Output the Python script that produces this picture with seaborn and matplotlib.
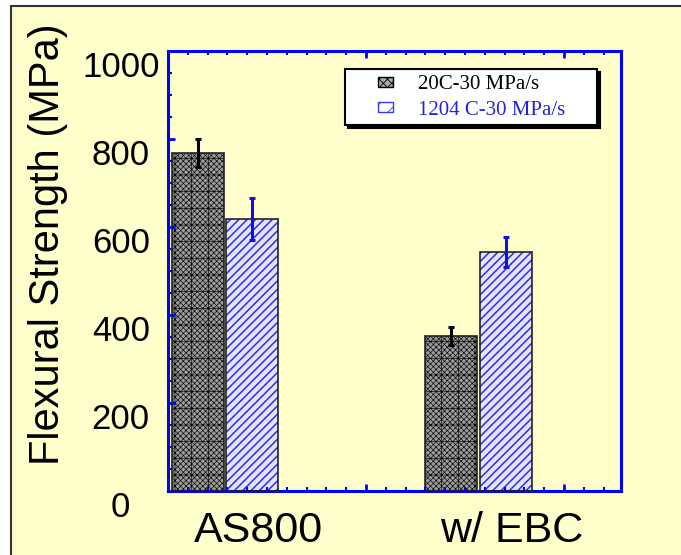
import numpy as np
import pandas as pd
import matplotlib
matplotlib.use("Agg")
import matplotlib.pyplot as plt
import matplotlib.transforms as mtransforms
from matplotlib.patches import Rectangle
from matplotlib.legend_handler import HandlerPatch
import seaborn as sns

# values
materials = ["AS800", "w/ EBC"]
conditions = ["20C-30 MPa/s", "1204 C-30 MPa/s"]
strength_20c = [768, 352]
strength_1204c = [618, 543]
error_20c = [31, 20]
error_1204c = [48, 34]

BG = "#FFFFCC"
BLUE = "#0000FF"
TEXT_BLUE = "#2323D8"

df = pd.DataFrame({
    "material": materials * 2,
    "condition": [conditions[0]] * 2 + [conditions[1]] * 2,
    "strength": strength_20c + strength_1204c,
})
errors = [error_20c, error_1204c]

plt.rcParams["font.family"] = "Liberation Sans"
plt.rcParams["hatch.linewidth"] = 0.6

fig = plt.figure(figsize=(6.81, 5.55), dpi=100, facecolor="white")
# slide background with its frame on the left and top
fig.add_artist(Rectangle((11 / 681, -0.5), 1.5, 1.5 - 6 / 555,
                         transform=fig.transFigure, facecolor=BG,
                         edgecolor="#333333", lw=1.5, zorder=-10))
ax = fig.add_axes([168 / 681, 1 - 491 / 555, 453 / 681, 440 / 555])
ax.set_facecolor(BG)

sns.barplot(data=df, x="material", y="strength", hue="condition",
            order=materials, hue_order=conditions, width=0.43, gap=0.04,
            errorbar=None, linewidth=0, legend=False, ax=ax)

# fill, hatch colour, hatch pattern and hatch width for each condition
styles = [("#9C9C9C", "black", "+xxxxxx", 0.45), ("#E4E4FF", "#2E2EE8", "////", 1.1)]
bar_groups = list(ax.containers[:2])
for cont, (face, hatch_col, hatch, hlw) in zip(bar_groups, styles):
    for bar in cont:
        bar.set_facecolor(face)
        bar.set_edgecolor(hatch_col)
        bar.set_hatch(hatch)
        bar.set_linewidth(0)
        if hasattr(bar, "set_hatch_linewidth"):
            bar.set_hatch_linewidth(hlw)
        # dark outline on top of the hatched bar
        ax.add_patch(Rectangle(bar.get_xy(), bar.get_width(), bar.get_height(),
                               fill=False, edgecolor="#222222", lw=1.2, zorder=3))

# error bars centred on the bars
for cont, err, col in zip(bar_groups, errors, ["black", "#1010E0"]):
    xs = [b.get_x() + b.get_width() / 2 for b in cont]
    ys = [b.get_height() for b in cont]
    ax.errorbar(xs, ys, yerr=err, fmt="none", ecolor=col, elinewidth=2.2,
                capsize=2.5, capthick=2.2, zorder=5)

ax.set_xlim(-0.225, 1.562)
ax.set_ylim(0, 1000)

for s in ax.spines.values():
    s.set_color(BLUE)
    s.set_linewidth(2.2)

# y axis
ax.set_yticks(range(0, 1001, 200))
ax.set_yticks(range(0, 1001, 50), minor=True)
ax.tick_params(axis="y", which="both", direction="in", color=BLUE)
ax.tick_params(axis="y", which="major", length=5, width=2, labelsize=25, pad=34)
ax.tick_params(axis="y", which="minor", length=3, width=1.5)
for lab in ax.get_yticklabels():
    lab.set_ha("center")
    lab.set_va("top")
ax.set_ylabel("Flexural Strength (MPa)", fontsize=30, va="center")
ax.yaxis.set_label_coords(-0.265, 0.561)

# x axis: category names, shifted right as in the original
ax.set_xticks([0, 1], materials)
ax.tick_params(axis="x", which="major", length=0, labelsize=31, pad=14.5)
ax.set_xlabel("")
shift = mtransforms.ScaledTranslation(33 / 100, 0, fig.dpi_scale_trans)
for lab in ax.get_xticklabels():
    lab.set_transform(lab.get_transform() + shift)

# plain tick marks along top and bottom spines
ax2 = ax.twiny()
ax2.set_xlim(0, 453 / 198)
ax2.set_xticks([1, 2])
ax2.set_xticks(np.arange(0.1, 2.3, 0.1), minor=True)
ax2.xaxis.set_ticks_position("both")
ax2.tick_params(axis="x", which="both", direction="in", color=BLUE,
                labeltop=False, labelbottom=False)
ax2.tick_params(axis="x", which="major", length=5, width=2)
ax2.tick_params(axis="x", which="minor", length=3, width=1.5)
for s in ax2.spines.values():
    s.set_visible(False)


def small_box(legend, orig_handle, xdescent, ydescent, width, height, fontsize):
    bw, bh = 10.8, 7.2
    return Rectangle((-xdescent + width - bw, -ydescent + (height - bh) / 2), bw, bh)


handles = [
    Rectangle((0, 0), 1, 1, facecolor="#A8A8A8", edgecolor="black", hatch="xxxx", lw=1),
    Rectangle((0, 0), 1, 1, facecolor="white", edgecolor="#3A3AF0", hatch="//", lw=1),
]
leg = ax2.legend(handles, conditions, loc="upper left",
                 bbox_to_anchor=(0.391, 0.5, 0.556, 0.459), mode="expand",
                 borderaxespad=0, borderpad=0.25, labelspacing=0.3,
                 handlelength=2.07, handletextpad=1.2,
                 handler_map={Rectangle: HandlerPatch(patch_func=small_box)},
                 prop={"family": "Liberation Serif", "size": 15},
                 labelcolor=["black", TEXT_BLUE], fancybox=False,
                 framealpha=1, edgecolor="black",
                 shadow={"color": "black", "alpha": 1})
leg.get_frame().set_linewidth(1.5)

fig.savefig("out.png", dpi=100, facecolor=fig.get_facecolor())
